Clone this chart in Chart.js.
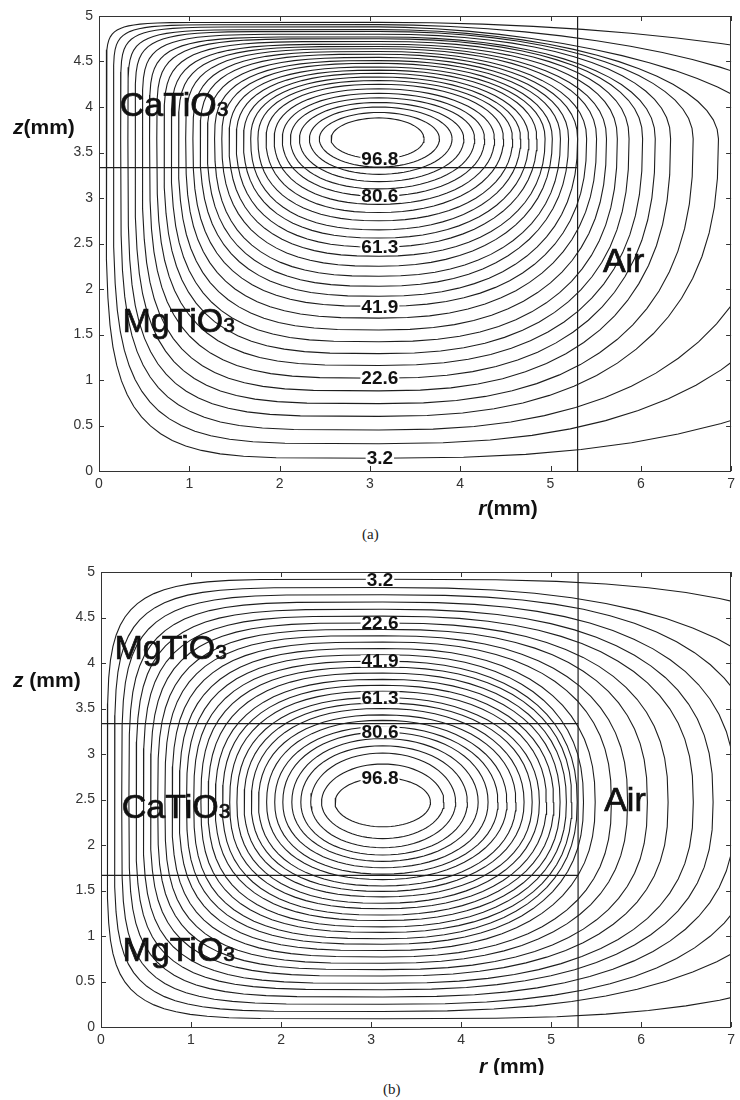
<!DOCTYPE html>
<html><head><meta charset="utf-8">
<script src="https://cdn.jsdelivr.net/npm/chart.js@4.4.0/dist/chart.umd.min.js"></script>
<style>
body{margin:0;background:#fff;width:740px;height:1100px;position:relative;overflow:hidden}
.wrap{position:absolute;left:0;width:740px}
.cap{position:absolute;font-family:"Liberation Serif","Times New Roman",serif;font-size:15px;color:#222}
</style></head><body>
<div class="wrap" style="top:0"><canvas id="ca" width="740" height="520"></canvas></div>
<div class="wrap" style="top:545px"><canvas id="cb" width="740" height="530"></canvas></div>
<div class="cap" style="left:362px;top:526px">(a)</div>
<div class="cap" style="left:383px;top:1081px">(b)</div>
<script>
// ---------- tick labels ----------
const rTicks = [0,1,2,3,4,5,6,7];
const zTicks = [0,0.5,1,1.5,2,2.5,3,3.5,4,4.5,5];
// ---------- contour labels (levels 1,7,13,19,25,30 of 30) ----------
const labelText = ["3.2","22.6","41.9","61.3","80.6","96.8"];
const labelIdx  = [0,6,12,18,24,29];
// ---------- layer boundaries ----------
const A_layers = [3.333];
const B_layers = [1.667, 3.333];
const edgeR = 5.3;

// ---------- panel (a): contour extents ----------
const A_center = [3.1, 3.65];
const A_zBot = [0.14,0.30,0.45,0.60,0.74,0.88,1.02,1.16,1.29,1.42,1.55,1.68,1.81,1.92,2.03,2.14,2.25,2.36,2.46,2.56,2.65,2.75,2.84,2.93,3.02,3.10,3.18,3.26,3.34,3.43];
const A_zTop = [4.93,4.905,4.88,4.85,4.83,4.80,4.77,4.75,4.72,4.69,4.665,4.64,4.61,4.58,4.545,4.51,4.48,4.44,4.405,4.37,4.33,4.29,4.25,4.20,4.15,4.10,4.05,4.00,3.94,3.88];
const A_rLeft = [0.08,0.16,0.24,0.32,0.40,0.48,0.56,0.64,0.72,0.80,0.88,0.96,1.04,1.12,1.20,1.28,1.36,1.44,1.52,1.60,1.68,1.76,1.85,1.94,2.03,2.12,2.22,2.33,2.44,2.57];
const A_rRight = [9.7,8.1,7.5,6.86,6.58,6.33,6.16,6.02,5.87,5.74,5.62,5.51,5.40,5.30,5.20,5.11,5.02,4.94,4.85,4.76,4.67,4.58,4.48,4.38,4.27,4.16,4.04,3.91,3.77,3.60];
const A_nTL = [13,11,9.5,8.3,7.3,6.5,5.8,5.2,4.7,4.3,4.0,3.7,3.45,3.25,3.05,2.9,2.75,2.65,2.55,2.45,2.4,2.35,2.3,2.25,2.2,2.15,2.1,2.05,2.0,2.0];
const A_nTR = [2.0,1.9,1.8,2.0,2.1,2.2,2.2,2.25,2.3,2.3,2.25,2.25,2.2,2.2,2.2,2.2,2.15,2.15,2.15,2.1,2.1,2.1,2.1,2.05,2.05,2.05,2.0,2.0,2.0,2.0];
const A_nBL = [5.0,4.7,4.4,4.2,4.0,3.8,3.6,3.45,3.3,3.2,3.1,3.0,2.9,2.8,2.75,2.7,2.6,2.55,2.5,2.45,2.4,2.35,2.3,2.25,2.2,2.15,2.1,2.05,2.0,2.0];
const A_nBR = [2.5,2.5,2.45,2.5,2.5,2.5,2.5,2.5,2.5,2.5,2.45,2.4,2.4,2.35,2.3,2.3,2.25,2.25,2.2,2.2,2.15,2.15,2.1,2.1,2.1,2.05,2.05,2.0,2.0,2.0];

// ---------- panel (b): contour extents ----------
const B_center = [3.13, 2.47];
const B_zBot = [0.09,0.17,0.25,0.33,0.41,0.48,0.56,0.63,0.70,0.77,0.84,0.91,0.97,1.04,1.10,1.17,1.23,1.30,1.36,1.43,1.49,1.55,1.62,1.68,1.75,1.82,1.89,1.97,2.07,2.20];
const B_zTop = [4.92,4.83,4.75,4.67,4.59,4.515,4.44,4.37,4.30,4.23,4.16,4.09,4.02,3.955,3.89,3.82,3.755,3.69,3.62,3.56,3.50,3.43,3.37,3.30,3.24,3.17,3.09,3.01,2.89,2.74];
const B_rLeft = [0.07,0.15,0.23,0.31,0.39,0.47,0.55,0.63,0.71,0.79,0.87,0.95,1.03,1.11,1.19,1.27,1.35,1.43,1.51,1.59,1.67,1.75,1.84,1.93,2.02,2.12,2.22,2.33,2.45,2.60];
const B_rRight = [8.9,8.0,7.35,7.05,6.80,6.58,6.30,6.07,5.85,5.67,5.49,5.36,5.29,5.23,5.17,5.10,5.03,4.95,4.87,4.79,4.70,4.61,4.51,4.41,4.30,4.19,4.07,3.94,3.81,3.66];
const B_nL = [6.0,5.4,4.9,4.5,4.2,3.95,3.75,3.55,3.4,3.25,3.1,3.0,2.9,2.8,2.7,2.6,2.55,2.5,2.45,2.4,2.35,2.3,2.25,2.2,2.15,2.1,2.1,2.05,2.0,2.0];
const B_nR = [3.2,2.55,2.7,2.6,2.55,2.5,2.5,2.5,2.45,2.45,2.4,2.4,2.35,2.35,2.3,2.3,2.25,2.25,2.2,2.2,2.15,2.15,2.1,2.1,2.1,2.05,2.05,2.0,2.0,2.0];

// ---------- build closed contour paths from the read extents ----------
function contourPath(rc, zc, rL, rR, zB, zT, nTR, nTL, nBL, nBR){
  const Q = [
    {a:rR-rc, b:zT-zc, sx: 1, sy: 1, n:nTR},
    {a:rc-rL, b:zT-zc, sx:-1, sy: 1, n:nTL},
    {a:rc-rL, b:zc-zB, sx:-1, sy:-1, n:nBL},
    {a:rR-rc, b:zc-zB, sx: 1, sy:-1, n:nBR}
  ];
  const pts = [];
  for(let q=0;q<4;q++){
    for(let i=0;i<18;i++){
      const t=(q*90+i*5)*Math.PI/180;
      const c=Math.abs(Math.cos(t)), s=Math.abs(Math.sin(t));
      const o=Q[q];
      pts.push({x: rc+o.sx*o.a*Math.pow(c,2/o.n), y: zc+o.sy*o.b*Math.pow(s,2/o.n)});
    }
  }
  pts.push(pts[0]);
  return pts;
}
const LINE = '#1e1e1e';
function lineDS(data, w){ return {data, showLine:true, pointRadius:0, borderColor:LINE, borderWidth:w||1.1, tension:0, fill:false}; }

function datasetsA(){
  const ds=[];
  for(let k=0;k<A_zBot.length;k++){
    ds.push(lineDS(contourPath(A_center[0],A_center[1],A_rLeft[k],A_rRight[k],A_zBot[k],A_zTop[k],A_nTR[k],A_nTL[k],A_nBL[k],A_nBR[k])));
  }
  A_layers.forEach(z=>ds.push(lineDS([{x:0,y:z},{x:edgeR,y:z}],1.2)));
  ds.push(lineDS([{x:edgeR,y:0},{x:edgeR,y:5}],1.2));
  return ds;
}
function datasetsB(){
  const ds=[];
  for(let k=0;k<B_zBot.length;k++){
    ds.push(lineDS(contourPath(B_center[0],B_center[1],B_rLeft[k],B_rRight[k],B_zBot[k],B_zTop[k],B_nR[k],B_nL[k],B_nL[k],B_nR[k])));
  }
  B_layers.forEach(z=>ds.push(lineDS([{x:0,y:z},{x:edgeR,y:z}],1.2)));
  ds.push(lineDS([{x:edgeR,y:0},{x:edgeR,y:5}],1.2));
  return ds;
}

const FONT = '"Liberation Sans", Arial, Helvetica, sans-serif';

function chem(ctx, main, sub, x, y){
  ctx.font = '34px '+FONT;
  ctx.textAlign='left'; ctx.textBaseline='alphabetic';
  ctx.strokeStyle='#111'; ctx.lineWidth=0.7;
  ctx.fillText(main, x, y); ctx.strokeText(main, x, y);
  const w = ctx.measureText(main).width;
  if(sub){ ctx.font='21px '+FONT; ctx.fillText(sub, x+w, y); ctx.strokeText(sub, x+w, y); }
}

function makePlugin(cfg){
  return {
    id:'deco',
    afterDatasetsDraw(chart){
      const {ctx, chartArea:{left,right,top,bottom}, scales:{x,y}} = chart;
      ctx.save();
      ctx.strokeStyle='#333'; ctx.lineWidth=1;
      ctx.strokeRect(Math.round(left)+0.5, Math.round(top)+0.5, Math.round(right-left)-1, Math.round(bottom-top));
      ctx.beginPath();
      rTicks.forEach(v=>{const p=Math.round(x.getPixelForValue(v))+0.5; ctx.moveTo(p,bottom); ctx.lineTo(p,bottom-5); ctx.moveTo(p,top); ctx.lineTo(p,top+5);});
      zTicks.forEach(v=>{const p=Math.round(y.getPixelForValue(v))+0.5; ctx.moveTo(left,p); ctx.lineTo(left+5,p); ctx.moveTo(right,p); ctx.lineTo(right-5,p);});
      ctx.stroke();
      ctx.font='bold 19px '+FONT; ctx.textAlign='center'; ctx.textBaseline='middle';
      labelIdx.forEach((k,i)=>{
        const px=x.getPixelForValue(cfg.labelR), py=y.getPixelForValue(cfg.labelZ[k]);
        const w=ctx.measureText(labelText[i]).width;
        ctx.fillStyle='#fff'; ctx.fillRect(px-w/2-1, py-6, w+2, 12);
        ctx.fillStyle='#111'; ctx.fillText(labelText[i], px, py+1);
      });
      ctx.fillStyle='#111';
      cfg.regions.forEach(g=>chem(ctx, g[0], g[1], x.getPixelForValue(g[2]), y.getPixelForValue(g[3])));
      ctx.textBaseline='middle'; ctx.textAlign='left';
      let zx=13, zy=y.getPixelForValue(cfg.zTitleZ);
      ctx.font='italic bold 21px '+FONT; ctx.fillText('z', zx, zy); zx+=ctx.measureText('z').width;
      ctx.font='bold 21px '+FONT; ctx.fillText(cfg.zTitle, zx, zy);
      let rx=x.getPixelForValue(cfg.rTitleR), ry=bottom+cfg.rTitleDy;
      ctx.font='italic bold 21px '+FONT; ctx.fillText('r', rx, ry); rx+=ctx.measureText('r').width;
      ctx.font='bold 21px '+FONT; ctx.fillText(cfg.rTitle, rx, ry);
      ctx.restore();
    }
  };
}

function scales(yw){
  return {
    x:{type:'linear', min:0, max:7, afterBuildTicks:s=>{s.ticks=rTicks.map(v=>({value:v}));},
       afterFit:s=>{s.height=24;}, grid:{display:false, drawTicks:false}, border:{display:false},
       ticks:{color:'#333', padding:5, maxRotation:0, autoSkip:false, font:{family:FONT,size:14}, callback:v=>String(v)}},
    y:{type:'linear', min:0, max:5, afterBuildTicks:s=>{s.ticks=zTicks.map(v=>({value:v}));},
       afterFit:s=>{s.width=yw;}, grid:{display:false, drawTicks:false}, border:{display:false},
       ticks:{color:'#333', padding:6, autoSkip:false, font:{family:FONT,size:14}, callback:v=>String(v)}}
  };
}

function common(ds, pad, yw, plugin){
  return {
    type:'scatter',
    data:{datasets:ds},
    options:{responsive:false, animation:false, events:[],
      layout:{autoPadding:false, padding:pad},
      plugins:{legend:{display:false}, tooltip:{enabled:false}},
      scales:scales(yw)},
    plugins:[plugin]
  };
}

new Chart(document.getElementById('ca'), common(datasetsA(), {top:16,right:4,bottom:25,left:0}, 99,
  makePlugin({labelR:3.11, labelZ:A_zBot,
    regions:[["CaTiO","3",0.23,3.90],["MgTiO","3",0.26,1.53],["Air","",5.58,2.19]],
    zTitle:'(mm)', zTitleZ:3.77, rTitle:'(mm)', rTitleR:4.2, rTitleDy:38})));

new Chart(document.getElementById('cb'), common(datasetsB(), {top:27,right:2,bottom:24,left:0}, 101,
  makePlugin({labelR:3.1, labelZ:B_zTop,
    regions:[["MgTiO","3",0.15,4.04],["CaTiO","3",0.23,2.30],["MgTiO","3",0.24,0.72],["Air","",5.59,2.37]],
    zTitle:' (mm)', zTitleZ:3.8, rTitle:' (mm)', rTitleR:4.2, rTitleDy:40})));
</script>
</body></html>
